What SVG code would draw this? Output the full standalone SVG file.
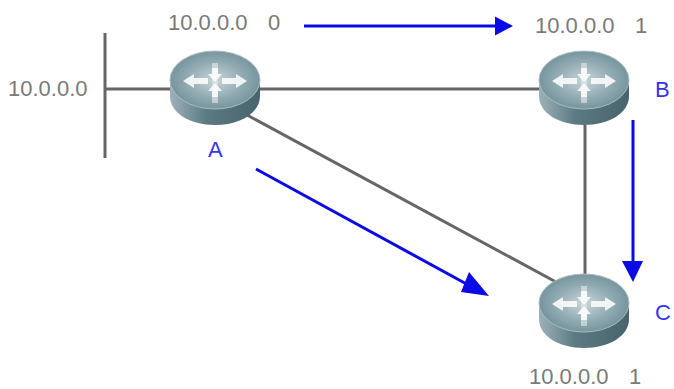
<svg xmlns="http://www.w3.org/2000/svg" xmlns:xlink="http://www.w3.org/1999/xlink" width="674" height="389" viewBox="0 0 674 389">
<style>
text{font-family:"Liberation Sans",Arial,sans-serif;font-size:22px}
.g{fill:#7a7a7a}.b{fill:#3434ee}
.l{stroke:#666;stroke-width:3;fill:none}
.a{stroke:#0a0ae6;stroke-width:3;fill:none}
.h{fill:#0a0ae6}
.w{fill:#fff;opacity:.85}
.d{fill:#dfe6e8;opacity:.65}
</style>
<defs>
<radialGradient id="top" cx=".5" cy=".5" r=".55">
<stop offset="0" stop-color="#c9d6d9"/><stop offset=".55" stop-color="#93acb3"/><stop offset="1" stop-color="#6f8f98"/>
</radialGradient>
<linearGradient id="side" x1="0" x2="1" y1="0" y2="0">
<stop offset="0" stop-color="#9db2b8"/><stop offset=".4" stop-color="#5c7a83"/><stop offset="1" stop-color="#48636c"/>
</linearGradient>
<g id="r">
<path d="M-45-8V8C-45 25-25 37 0 37S45 25 45 8V-8Z" fill="url(#side)"/>
<ellipse cx="0" cy="-8" rx="45" ry="29" fill="url(#top)" stroke="#a9bcc1" stroke-width="1"/>
<rect class="d" x="-3" y="-25" width="6" height="40"/>
<path class="w" d="M-32-7L-21-14V-10H-7V-4H-21V0ZM32-7L21-14V-10H7V-4H21V0Z"/>
<path class="w" d="M-3-20H3V-14H7L0-6L-7-14H-3ZM0-5L7 3H3V9H-3V3H-7Z"/>
</g>
</defs>
<g id="connectors">
<path class="l" d="M105 33V158M105 89H172M258 89H540M247 115L556 282M585 125V276"/>
<path class="a" d="M304 26H497M256 169L472 287M633 120V265"/>
<path class="h" d="M513 26L495 16.500V35.500ZM489 296L469 272L461 292ZM633 282L622 261H643Z"/>
</g>
<g id="node-A"><use xlink:href="#r" href="#r" x="215" y="88"/><text class="b" x="208" y="157">A</text></g>
<g id="node-B"><use xlink:href="#r" href="#r" x="584" y="88"/><text class="b" x="655" y="97">B</text></g>
<g id="node-C"><use xlink:href="#r" href="#r" x="584" y="311"/><text class="b" x="655" y="320">C</text></g>
<g id="labels">
<text class="g" x="8" y="96">10.0.0.0</text>
<text class="g" x="168" y="30">10.0.0.0</text><text class="g" x="268" y="30">0</text>
<text class="g" x="535" y="33">10.0.0.0</text><text class="g" x="635" y="33">1</text>
<text class="g" x="529" y="384">10.0.0.0</text><text class="g" x="629" y="384">1</text>
</g>
</svg>
